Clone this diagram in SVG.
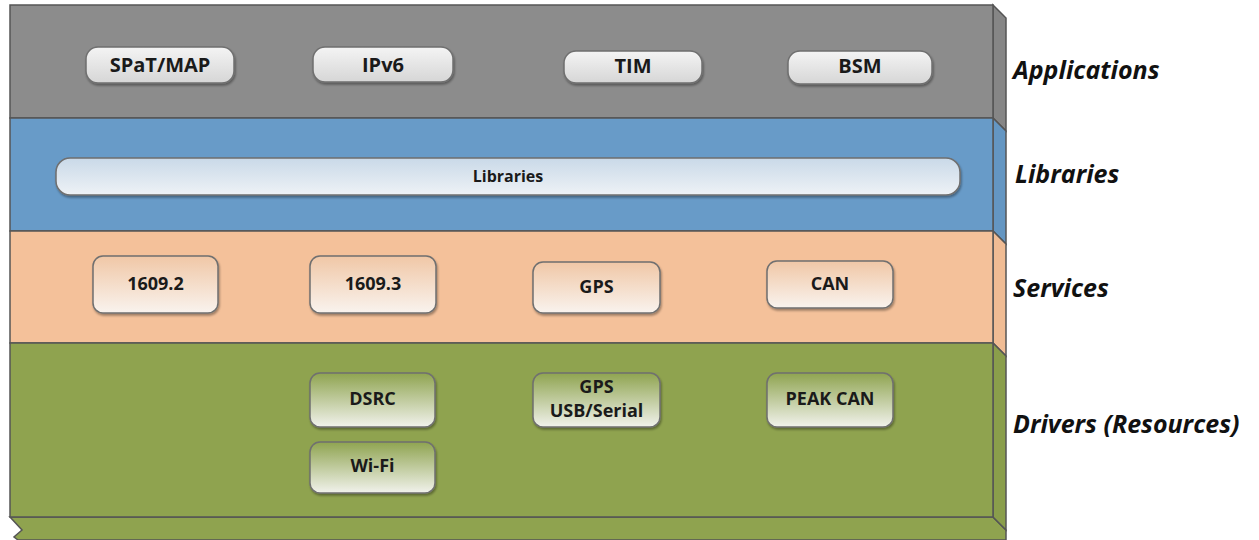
<svg xmlns="http://www.w3.org/2000/svg" width="1259" height="540" viewBox="0 0 1259 540">
<defs>
<linearGradient id="gApp" x1="0" y1="0" x2="0" y2="1"><stop offset="0" stop-color="#f4f4f4"/><stop offset="1" stop-color="#d6d6d6"/></linearGradient>
<linearGradient id="gLib" x1="0" y1="0" x2="0" y2="1"><stop offset="0" stop-color="#c9d9e8"/><stop offset="1" stop-color="#eef2f6"/></linearGradient>
<linearGradient id="gSvc" x1="0" y1="0" x2="0" y2="1"><stop offset="0" stop-color="#f0c7a6"/><stop offset="1" stop-color="#f9f3ee"/></linearGradient>
<linearGradient id="gDrv" x1="0" y1="0" x2="0" y2="1"><stop offset="0" stop-color="#8fa450"/><stop offset="1" stop-color="#f1f2ec"/></linearGradient>
<filter id="sh" x="-10%" y="-20%" width="120%" height="150%"><feDropShadow dx="1" dy="2" stdDeviation="1" flood-color="#000" flood-opacity="0.35"/></filter>
</defs>
<style>
.lay{stroke:#555;stroke-width:1.5}
.box{stroke:#6f6f6f;stroke-width:1.5;filter:url(#sh)}
.t{font-family:"Open Sans","DejaVu Sans",sans-serif;font-weight:bold;fill:#1a1a1a;text-anchor:middle}
.lbl{font-family:"Open Sans","DejaVu Sans",sans-serif;font-weight:bold;font-style:italic;font-size:25px;fill:#111}
</style>
<rect width="1259" height="540" fill="#fff"/>
<g id="layers">
<polygon points="10,517 993,517 1006,530 1006,540 18,540 14,537 22,530" fill="#8fa34f" class="lay"/>
<polygon points="993,5 1006,18 1006,131 993,118" fill="#868686" class="lay"/>
<polygon points="993,118 1006,131 1006,244 993,231" fill="#6496c2" class="lay"/>
<polygon points="993,231 1006,244 1006,356 993,343" fill="#f0bc94" class="lay"/>
<polygon points="993,343 1006,356 1006,530 993,517" fill="#8a9e4b" class="lay"/>
<rect x="10" y="5" width="983" height="113" fill="#8c8c8c" class="lay"/>
<rect x="10" y="118" width="983" height="113" fill="#689bc8" class="lay"/>
<rect x="10" y="231" width="983" height="112" fill="#f4c19a" class="lay"/>
<rect x="10" y="343" width="983" height="174" fill="#8fa34f" class="lay"/>
</g>
<g id="connectors"/>
<g id="n-spat"><rect class="box" x="86" y="47" width="148" height="36" rx="12" fill="url(#gApp)"/><text class="t" x="160" y="72" font-size="20">SPaT/MAP</text></g>
<g id="n-ipv6"><rect class="box" x="313" y="47" width="140" height="35" rx="12" fill="url(#gApp)"/><text class="t" x="383" y="72" font-size="20">IPv6</text></g>
<g id="n-tim"><rect class="box" x="564" y="51" width="138" height="32" rx="12" fill="url(#gApp)"/><text class="t" x="633" y="73" font-size="20">TIM</text></g>
<g id="n-bsm"><rect class="box" x="788" y="51" width="144" height="33" rx="12" fill="url(#gApp)"/><text class="t" x="860" y="73" font-size="20">BSM</text></g>
<g id="n-libraries"><rect class="box" x="56" y="158" width="904" height="37" rx="14" fill="url(#gLib)"/><text class="t" x="508" y="182" font-size="16">Libraries</text></g>
<g id="n-1609-2"><rect class="box" x="93" y="256" width="125" height="57" rx="10" fill="url(#gSvc)"/><text class="t" x="155.5" y="290" font-size="18">1609.2</text></g>
<g id="n-1609-3"><rect class="box" x="310" y="256" width="126" height="57" rx="10" fill="url(#gSvc)"/><text class="t" x="373" y="290" font-size="18">1609.3</text></g>
<g id="n-gps"><rect class="box" x="533" y="262" width="127" height="51" rx="10" fill="url(#gSvc)"/><text class="t" x="596.5" y="293" font-size="18">GPS</text></g>
<g id="n-can"><rect class="box" x="767" y="261" width="126" height="47" rx="10" fill="url(#gSvc)"/><text class="t" x="830" y="290" font-size="18">CAN</text></g>
<g id="n-dsrc"><rect class="box" x="310" y="373" width="125" height="54" rx="10" fill="url(#gDrv)"/><text class="t" x="372.5" y="405" font-size="18">DSRC</text></g>
<g id="n-wifi"><rect class="box" x="310" y="442" width="125" height="51" rx="10" fill="url(#gDrv)"/><text class="t" x="372.5" y="472" font-size="18">Wi-Fi</text></g>
<g id="n-gpsusb"><rect class="box" x="533" y="373" width="127" height="54" rx="10" fill="url(#gDrv)"/><text class="t" x="596.5" y="393" font-size="18">GPS</text><text class="t" x="596.5" y="417" font-size="18">USB/Serial</text></g>
<g id="n-peakcan"><rect class="box" x="767" y="373" width="126" height="54" rx="10" fill="url(#gDrv)"/><text class="t" x="830" y="405" font-size="18">PEAK CAN</text></g>
<g id="labels">
<text class="lbl" x="1013" y="79">Applications</text>
<text class="lbl" x="1015" y="183">Libraries</text>
<text class="lbl" x="1013" y="297">Services</text>
<text class="lbl" x="1013" y="433">Drivers (Resources)</text>
</g>
</svg>
